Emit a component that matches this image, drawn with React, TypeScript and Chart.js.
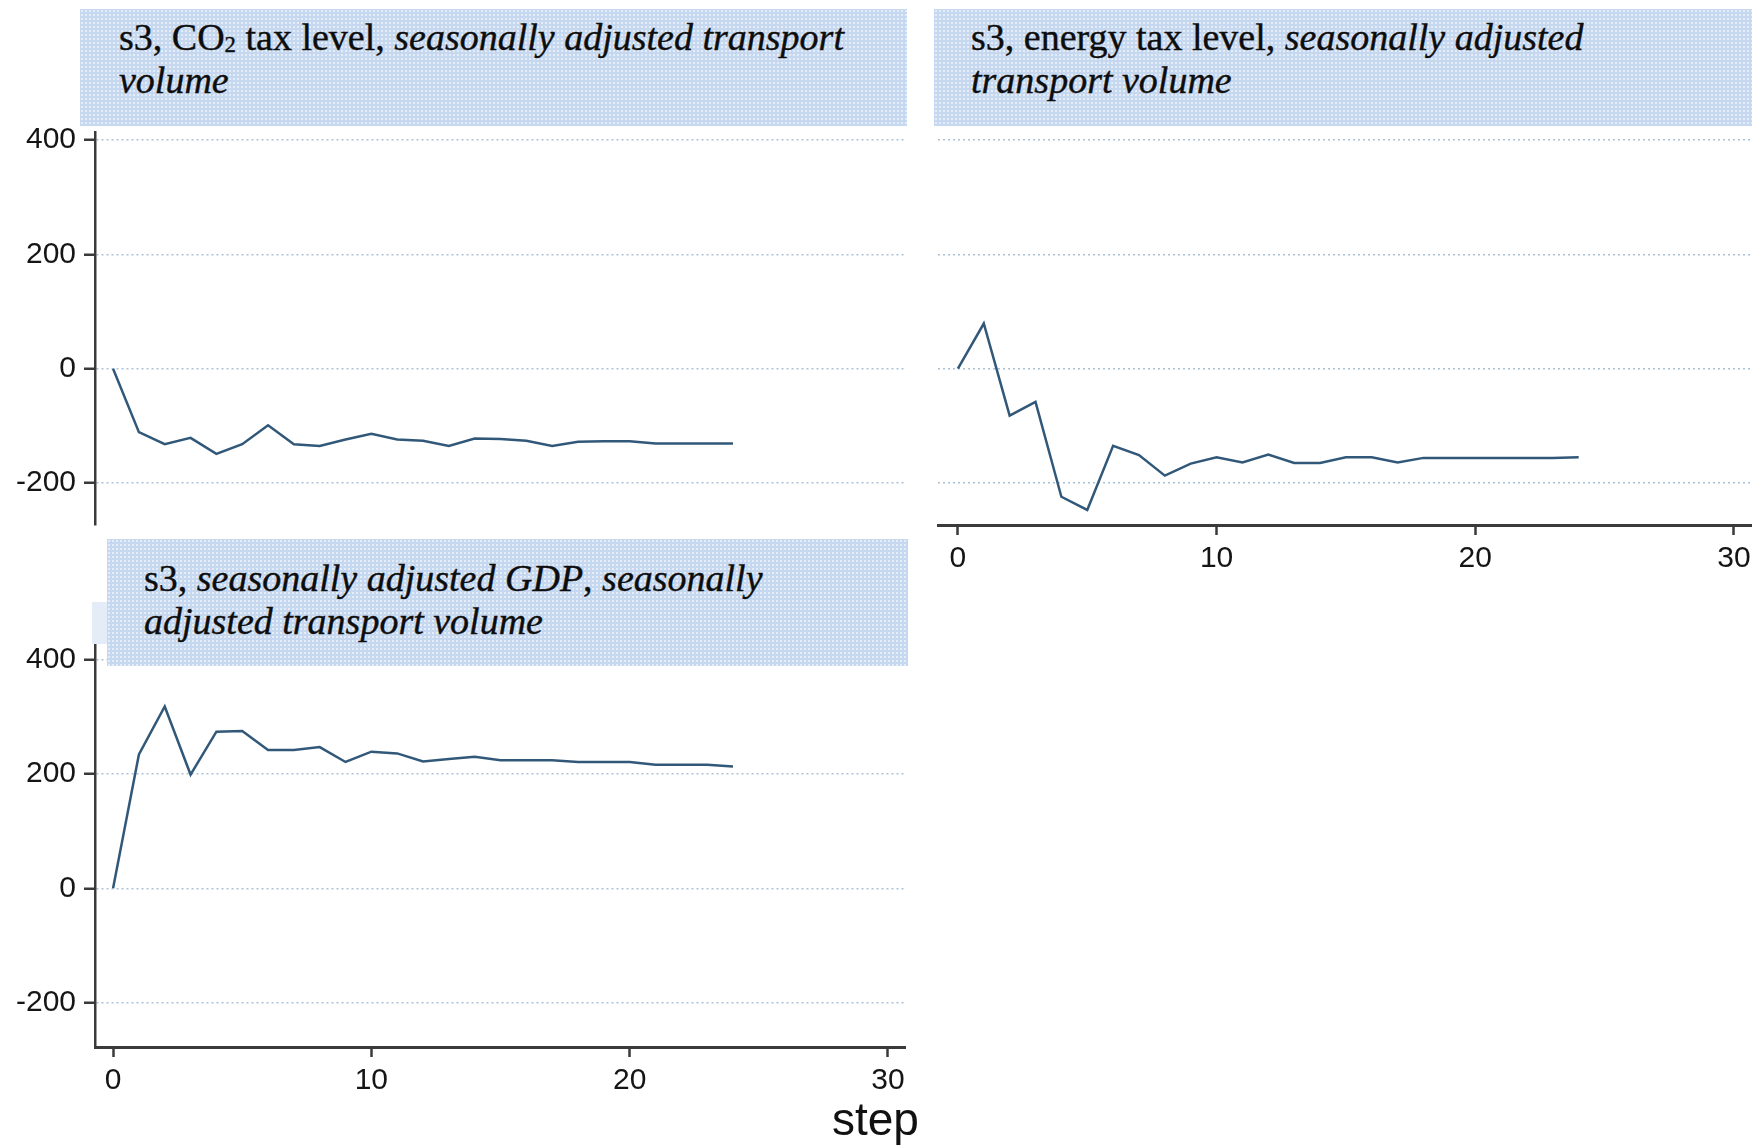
import React, { useEffect, useRef } from "react";
import { Chart, registerables } from "chart.js";

Chart.register(...registerables);

// ---- data ----
const steps = [0, 1, 2, 3, 4, 5, 6, 7, 8, 9, 10, 11, 12, 13, 14, 15, 16, 17, 18, 19, 20, 21, 22, 23, 24];
const co2TaxResponse = [0, -111, -132, -121, -149, -132, -99, -132, -135, -124, -114, -124, -126, -135, -122, -123, -126, -135, -128, -127, -127, -131, -131, -131, -131];
const energyTaxResponse = [0, 79, -82, -58, -224, -247, -135, -151, -187, -166, -155, -164, -150, -165, -165, -155, -155, -164, -156, -156, -156, -156, -156, -156, -155];
const gdpResponse = [0, 234, 318, 199, 274, 275, 242, 242, 247, 221, 239, 236, 222, 226, 230, 224, 224, 224, 221, 221, 221, 216, 216, 216, 213];
const yTickValues = [-200, 0, 200, 400];
const xTickValues = [0, 10, 20, 30];
const xAxisTitle = "step";

const LINE_COLOR = "#325879";
const GRID_COLOR = "#abc1d6";
const AXIS_COLOR = "#3a3a3a";
const TICK_FONT = { family: "'Liberation Sans', Arial, sans-serif", size: 30 };

type PanelProps = {
  values: number[];
  yMin: number;
  yMax: number;
  xMin: number;
  xMax: number;
  showYAxis: boolean;
  showXAxis: boolean;
  padding: { left: number; top: number; right: number; bottom: number };
  yWidth: number;
  xHeight: number;
  width: number;
  height: number;
  left: number;
  top: number;
};

function Panel(p: PanelProps) {
  const ref = useRef<HTMLCanvasElement | null>(null);
  useEffect(() => {
    if (!ref.current) return;
    const chart = new Chart(ref.current, {
      type: "line",
      data: {
        datasets: [
          {
            data: steps.map((s, i) => ({ x: s, y: p.values[i] })),
            borderColor: LINE_COLOR,
            borderWidth: 2.5,
            pointRadius: 0,
            tension: 0,
            fill: false,
          },
        ],
      },
      options: {
        animation: false,
        responsive: false,
        devicePixelRatio: 1,
        events: [],
        layout: { padding: p.padding },
        plugins: { legend: { display: false }, tooltip: { enabled: false }, title: { display: false } },
        scales: {
          x: {
            type: "linear",
            min: p.xMin,
            max: p.xMax,
            display: p.showXAxis,
            afterBuildTicks: (s: any) => {
              s.ticks = xTickValues.map((v) => ({ value: v }));
            },
            afterFit: (s: any) => {
              s.height = p.xHeight;
              s.paddingLeft = 0;
              s.paddingRight = 0;
            },
            ticks: {
              font: TICK_FONT,
              color: "#151515",
              padding: 6,
              maxRotation: 0,
              autoSkip: false,
            },
            grid: {
              drawOnChartArea: false,
              drawTicks: true,
              tickLength: 10,
              tickWidth: 2.5,
              tickColor: AXIS_COLOR,
            },
            border: { display: true, color: AXIS_COLOR, width: 3 },
          },
          y: {
            type: "linear",
            min: p.yMin,
            max: p.yMax,
            afterBuildTicks: (s: any) => {
              s.ticks = yTickValues.map((v) => ({ value: v }));
            },
            afterFit: (s: any) => {
              s.width = p.yWidth;
              s.paddingTop = 0;
              s.paddingBottom = 0;
            },
            ticks: {
              display: p.showYAxis,
              font: TICK_FONT,
              color: "#151515",
              padding: 8,
              includeBounds: false,
            },
            grid: {
              color: GRID_COLOR,
              lineWidth: 1.5,
              drawTicks: p.showYAxis,
              tickLength: 11,
              tickWidth: 2.5,
              tickColor: AXIS_COLOR,
              tickBorderDash: [],
            },
            border: { display: p.showYAxis, color: AXIS_COLOR, width: 2.5, dash: [2, 3] },
          },
        },
      } as any,
    });
    return () => chart.destroy();
  }, []);
  return (
    <canvas
      ref={ref}
      width={p.width}
      height={p.height}
      style={{ position: "absolute", left: p.left, top: p.top, width: p.width, height: p.height }}
    />
  );
}

const headerBase: React.CSSProperties = {
  position: "absolute",
  boxSizing: "border-box",
  backgroundColor: "#c6d8ef",
  backgroundImage: "radial-gradient(rgba(255,255,255,0.55) 0.7px, transparent 1.1px)",
  backgroundSize: "4px 4px",
  fontFamily: "'Liberation Serif', 'Times New Roman', serif",
  fontSize: 38,
  lineHeight: "43px",
  color: "#0d0d0d",
  WebkitTextStroke: "0.4px #111",
  whiteSpace: "nowrap",
  zIndex: 2,
};

export default function App() {
  return (
    <div
      style={{
        position: "absolute",
        left: 0,
        top: 0,
        width: 1752,
        height: 1145,
        overflow: "hidden",
        background: "#ffffff",
      }}
    >
      <Panel
        values={co2TaxResponse}
        yMin={-273.4}
        yMax={414}
        xMin={-0.7}
        xMax={30.66}
        showYAxis={true}
        showXAxis={false}
        padding={{ left: 0, top: 132, right: 10, bottom: 20 }}
        yWidth={95}
        xHeight={0}
        width={915}
        height={545}
        left={0}
        top={0}
      />
      <Panel
        values={energyTaxResponse}
        yMin={-273.4}
        yMax={414}
        xMin={-0.77}
        xMax={30.7}
        showYAxis={false}
        showXAxis={true}
        padding={{ left: 23, top: 132, right: 0, bottom: 0 }}
        yWidth={0}
        xHeight={75}
        width={837}
        height={600}
        left={915}
        top={0}
      />
      <Panel
        values={gdpResponse}
        yMin={-277.6}
        yMax={425.6}
        xMin={-0.7}
        xMax={30.66}
        showYAxis={true}
        showXAxis={true}
        padding={{ left: 0, top: 100, right: 10, bottom: 0 }}
        yWidth={95}
        xHeight={98}
        width={915}
        height={600}
        left={0}
        top={545}
      />

      <div style={{ ...headerBase, left: 80, top: 9, width: 827, height: 117, paddingLeft: 39, paddingTop: 7 }}>
        s3, CO<sub style={{ fontSize: "0.6em", verticalAlign: "-0.1em", lineHeight: 0 }}>2</sub> tax level,{" "}
        <i>seasonally adjusted transport</i>
        <br />
        <i>volume</i>
      </div>
      <div style={{ ...headerBase, left: 934, top: 9, width: 818, height: 117, paddingLeft: 37, paddingTop: 7 }}>
        s3, energy tax level, <i>seasonally adjusted</i>
        <br />
        <i>transport volume</i>
      </div>
      <div
        style={{
          position: "absolute",
          left: 92,
          top: 602,
          width: 15,
          height: 42,
          backgroundColor: "#e4ecf7",
          zIndex: 1,
        }}
      />
      <div style={{ ...headerBase, left: 107, top: 539, width: 801, height: 127, paddingLeft: 37, paddingTop: 18 }}>
        s3, <i>seasonally adjusted GDP</i>, <i>seasonally</i>
        <br />
        <i>adjusted transport volume</i>
      </div>

      <div
        style={{
          position: "absolute",
          left: 832,
          top: 1096,
          fontFamily: "'Liberation Sans', Arial, sans-serif",
          fontSize: 46,
          lineHeight: "46px",
          color: "#111",
          zIndex: 3,
        }}
      >
        {xAxisTitle}
      </div>
    </div>
  );
}
